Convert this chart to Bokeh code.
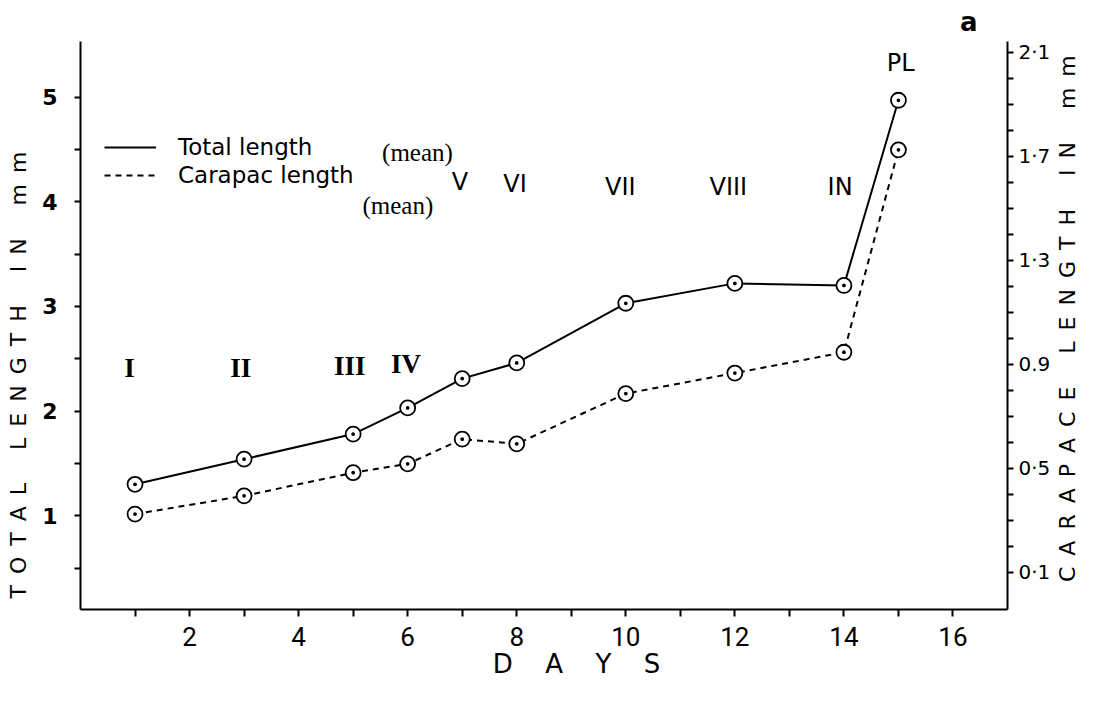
import math
from bokeh.plotting import figure
from bokeh.models import (Range1d, LinearAxis, FixedTicker, CustomJSTickFormatter,
                          Legend, LegendItem, LabelSet, Label, ColumnDataSource, Title)
from bokeh.core.properties import value
from bokeh.embed import file_html
from bokeh.resources import INLINE

# ---------------- data ----------------
days = [1, 3, 5, 6, 7, 8, 10, 12, 14, 15]
total_length = [1.30, 1.54, 1.78, 2.03, 2.31, 2.46, 3.03, 3.22, 3.20, 4.97]
carapace_length = [0.324, 0.394, 0.483, 0.517, 0.612, 0.594, 0.787, 0.866, 0.946, 1.724]

x_ticks = [2, 4, 6, 8, 10, 12, 14, 16]
x_minor_ticks = [1, 3, 5, 7, 9, 11, 13, 15]
left_ticks = [1, 2, 3, 4, 5]
left_minor_ticks = [0.5, 1.5, 2.5, 3.5, 4.5]
right_ticks = [0.1, 0.5, 0.9, 1.3, 1.7, 2.1]
right_minor_ticks = [0.2, 0.3, 0.4, 0.6, 0.7, 0.8, 1.0, 1.1, 1.2, 1.4, 1.5, 1.6, 1.8, 1.9, 2.0]

stage_a_names = ["I", "II", "III", "IV"]
stage_a_day = [0.90, 2.94, 4.94, 5.97]
stage_a_val = [2.41, 2.41, 2.43, 2.45]
stage_b_names = ["V", "VI", "VII", "VIII", "IN", "PL"]
stage_b_day = [6.96, 7.97, 9.90, 11.88, 13.93, 15.04]
stage_b_val = [4.19, 4.17, 4.14, 4.14, 4.14, 5.33]

legend_labels = ["Total length", "Carapac length"]
mean_text = ["(mean)", "(mean)"]
mean_day = [6.18, 5.82]
mean_val = [4.47, 3.96]
panel_letter = "a"

SP = "\u2002"          # letter gap
WG = "\u2003\u2002"    # word gap
left_title = WG.join(SP.join(w) for w in ["TOTAL", "LENGTH", "IN", "mm"]) + "\u2003\u2003\u2003\u2003\u2002"
right_words = WG.join(SP.join(w) for w in ["CARAPACE", "LENGTH", "IN", "mm"])
x_title = "\u2003\u2003\u2002" + "\u2003\u2005".join("DAYS")

# ---------------- figure ----------------
p = figure(width=1095, height=686,
           x_range=Range1d(0, 17), y_range=Range1d(0.1035, 5.5315),
           output_backend="svg", toolbar_location=None,
           min_border_left=80, min_border_right=81,
           min_border_top=32, min_border_bottom=77)
p.extra_y_ranges = {"car": Range1d(-0.0428, 2.1404)}
p.xgrid.visible = False
p.ygrid.visible = False
p.outline_line_color = None
p.background_fill_color = "white"

# lines and markers
tl = p.line(days, total_length, line_color="black", line_width=2)
p.scatter(days, total_length, marker="circle_dot", size=15,
          fill_color="white", line_color="black", line_width=1.8)
cl = p.line(days, carapace_length, y_range_name="car", line_color="black",
            line_width=2, line_dash="6 5")
p.scatter(days, carapace_length, y_range_name="car", marker="circle_dot", size=15,
          fill_color="white", line_color="black", line_width=1.8)

# ---------------- axes ----------------
def style_axis(ax, tick_len):
    ax.axis_line_width = 2
    ax.axis_line_color = "black"
    ax.major_tick_line_width = 2
    ax.minor_tick_line_width = 2
    ax.major_tick_out = tick_len
    ax.minor_tick_out = tick_len
    ax.major_tick_in = 0
    ax.minor_tick_in = 0
    ax.major_label_text_color = "black"
    ax.axis_label_text_color = "black"
    ax.axis_label_text_font_style = "normal"

xa = p.xaxis[0]
style_axis(xa, 7)
xa.ticker = FixedTicker(ticks=x_ticks, minor_ticks=x_minor_ticks)
xa.major_label_text_font = "Roboto"
xa.major_label_text_font_size = "26px"
xa.major_label_standoff = 10
xa.axis_label = x_title
xa.axis_label_text_font = "DejaVu Sans"
xa.axis_label_text_font_size = "26px"
xa.axis_label_standoff = 0

ya = p.yaxis[0]
style_axis(ya, 6)
ya.ticker = FixedTicker(ticks=left_ticks, minor_ticks=left_minor_ticks)
ya.major_label_text_font = "DejaVu Sans"
ya.major_label_text_font_style = "bold"
ya.major_label_text_font_size = "22px"
ya.major_label_standoff = 17
ya.major_label_orientation = "horizontal"
ya.axis_label = left_title
ya.axis_label_text_font = "DejaVu Sans"
ya.axis_label_text_font_size = "22px"
ya.axis_label_standoff = 8

ra = LinearAxis(y_range_name="car")
style_axis(ra, 6)
ra.ticker = FixedTicker(ticks=right_ticks, minor_ticks=right_minor_ticks)
ra.formatter = CustomJSTickFormatter(
    code="const s = tick.toFixed(1); return s == '0.9' ? s : s.replace('.', '\u00b7');")
ra.major_label_text_font = "DejaVu Sans"
ra.major_label_text_font_size = "20px"
ra.major_label_standoff = 5
ra.major_label_orientation = "horizontal"
ra.axis_label_text_font = "DejaVu Sans"
ra.axis_label_text_font_size = "22px"
try:
    ra.axis_label_align = "start"
    ra.axis_label_orientation = math.pi / 2
    ra.axis_label = "\u2003\u2005" + right_words
    ra.axis_label_standoff = 14
except Exception:
    ra.axis_label = None
    p.add_layout(Label(x=989, y=294, x_units="screen", y_units="screen",
                       text=right_words, angle=math.pi / 2,
                       text_font="DejaVu Sans", text_font_size="22px",
                       text_align="center", text_baseline="middle",
                       text_color="black"))
p.add_layout(ra, "right")

# ---------------- panel letter ----------------
p.add_layout(Title(text=panel_letter, align="right", offset=30, standoff=9,
                   text_font="DejaVu Sans", text_font_style="bold",
                   text_font_size="26px", text_color="black"), "above")

# ---------------- legend ----------------
legend = Legend(items=[LegendItem(label=legend_labels[0], renderers=[tl]),
                       LegendItem(label=legend_labels[1], renderers=[cl])],
                location=(24, 421), padding=0, margin=0, spacing=2,
                glyph_width=52, glyph_height=20, label_height=20,
                label_standoff=22, label_text_font="DejaVu Sans",
                label_text_font_size="23px", label_text_color="black",
                border_line_color=None, background_fill_alpha=0)
p.add_layout(legend)

mean_src = ColumnDataSource(dict(x=mean_day, y=mean_val, t=mean_text))
p.add_layout(LabelSet(x="x", y="y", text="t", source=mean_src,
                      text_font=value("Liberation Serif"), text_font_size=value("25px"),
                      text_align="center", text_baseline="middle", text_color="black"))

# ---------------- stage labels ----------------
src_a = ColumnDataSource(dict(x=stage_a_day, y=stage_a_val, t=stage_a_names))
p.add_layout(LabelSet(x="x", y="y", text="t", source=src_a,
                      text_font=value("Liberation Serif"), text_font_style="bold",
                      text_font_size=value("27px"), text_align="center",
                      text_baseline="middle", text_color="black"))
src_b = ColumnDataSource(dict(x=stage_b_day, y=stage_b_val, t=stage_b_names))
p.add_layout(LabelSet(x="x", y="y", text="t", source=src_b,
                      text_font=value("DejaVu Sans"), text_font_size=value("24px"),
                      text_align="center", text_baseline="middle", text_color="black"))

with open("out.html", "w", encoding="utf-8") as f:
    f.write(file_html(p, INLINE))
